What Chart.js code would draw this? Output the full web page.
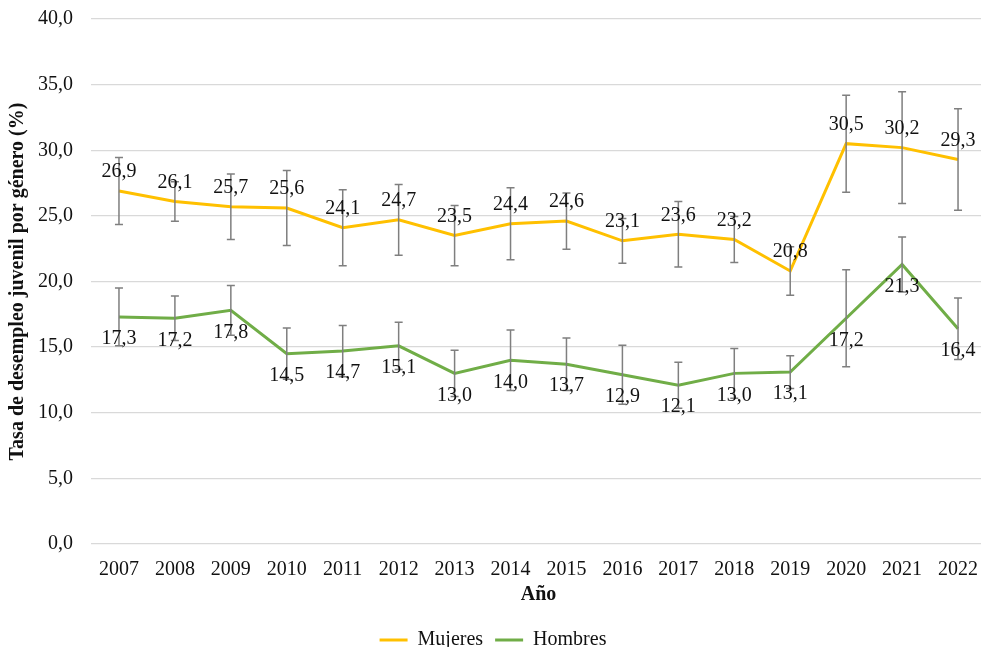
<!DOCTYPE html>
<html>
<head>
<meta charset="utf-8">
<script src="https://cdn.jsdelivr.net/npm/chart.js@4.4.1/dist/chart.umd.min.js"></script>
<style>
  html, body { margin: 0; padding: 0; background: #fff; overflow: hidden; }
</style>
</head>
<body>
<canvas id="chart" width="986" height="647"></canvas>
<script>
// Data
const years = ["2007", "2008", "2009", "2010", "2011", "2012", "2013", "2014",
    "2015", "2016", "2017", "2018", "2019", "2020", "2021", "2022"];
const mujeres = [26.9, 26.1, 25.7, 25.6, 24.1, 24.7, 23.5, 24.4, 24.6, 23.1, 23.6, 23.2, 20.8, 30.5, 30.2, 29.3];
const hombres = [17.3, 17.2, 17.8, 14.5, 14.7, 15.1, 13.0, 14.0, 13.7, 12.9, 12.1, 13.0, 13.1, 17.2, 21.3, 16.4];
// +/- error (percentage points)
const errMujeres = [2.55, 1.5, 2.5, 2.85, 2.9, 2.7, 2.3, 2.75, 2.15, 1.7, 2.5, 1.75, 1.85, 3.7, 4.25, 3.87];
const errHombres = [2.2, 1.7, 1.9, 1.95, 1.95, 1.8, 1.76, 2.3, 2.0, 2.25, 1.75, 1.9, 1.25, 3.7, 2.1, 2.35];

const FONT = "'Liberation Serif', 'Times New Roman', serif";
const fmt = (v) => v.toFixed(1).replace(".", ",");

// error bars + value labels drawn from the scales
const errorBarPlugin = {
    id: "errorBars",
    afterDatasetsDraw(chart) {
        const ctx = chart.ctx;
        const x = chart.scales.x;
        const y = chart.scales.y;
        ctx.save();
        ctx.strokeStyle = "#7f7f7f";
        ctx.lineWidth = 1.5;
        chart.data.datasets.forEach((ds) => {
            ds.data.forEach((v, i) => {
                const px = x.getPixelForValue(i);
                const top = y.getPixelForValue(v + ds.errors[i]);
                const bot = y.getPixelForValue(v - ds.errors[i]);
                ctx.beginPath();
                ctx.moveTo(px, top); ctx.lineTo(px, bot);
                ctx.moveTo(px - 4, top); ctx.lineTo(px + 4, top);
                ctx.moveTo(px - 4, bot); ctx.lineTo(px + 4, bot);
                ctx.stroke();
            });
        });
        ctx.fillStyle = "#111";
        ctx.font = "20px " + FONT;
        ctx.textAlign = "center";
        ctx.textBaseline = "middle";
        chart.data.datasets.forEach((ds) => {
            ds.data.forEach((v, i) => {
                const px = x.getPixelForValue(i);
                const py = y.getPixelForValue(v);
                ctx.fillText(fmt(v), px, py + ds.labelOffset);
            });
        });
        ctx.restore();
    }
};

new Chart(document.getElementById("chart"), {
    type: "line",
    data: {
        labels: years,
        datasets: [
            {
                label: "Mujeres",
                data: mujeres,
                errors: errMujeres,
                labelOffset: -19,
                borderColor: "#FFC000",
                backgroundColor: "#FFC000",
                borderWidth: 3,
                pointRadius: 0,
                tension: 0
            },
            {
                label: "Hombres",
                data: hombres,
                errors: errHombres,
                labelOffset: 22,
                borderColor: "#70AD47",
                backgroundColor: "#70AD47",
                borderWidth: 3,
                pointRadius: 0,
                tension: 0
            }
        ]
    },
    options: {
        responsive: false,
        animation: false,
        layout: { padding: { top: 19, right: 0, left: 0, bottom: -13 } },
        plugins: {
            legend: {
                position: "bottom",
                labels: {
                    usePointStyle: true,
                    pointStyle: "line",
                    pointStyleWidth: 28,
                    boxHeight: 3,
                    color: "#111",
                    font: { family: FONT, size: 20 },
                    padding: 12
                }
            },
            tooltip: { enabled: false }
        },
        scales: {
            x: {
                offset: true,
                grid: { display: false },
                border: { display: false },
                ticks: { color: "#111", font: { family: FONT, size: 20 }, padding: 6, maxRotation: 0 },
                title: {
                    display: true,
                    text: "Año",
                    color: "#111",
                    font: { family: FONT, size: 20, weight: "bold" },
                    padding: { top: 0, bottom: 11 }
                },
                afterFit: (scale) => { scale.height = 74; }
            },
            y: {
                min: 0,
                max: 40,
                ticks: {
                    stepSize: 5,
                    color: "#111",
                    font: { family: FONT, size: 20 },
                    padding: 18,
                    callback: (v) => fmt(v)
                },
                grid: { color: "#d9d9d9", lineWidth: 1.3, drawTicks: false },
                border: { display: false },
                title: {
                    display: true,
                    text: "Tasa de desempleo juvenil por género (%)",
                    color: "#111",
                    font: { family: FONT, size: 20, weight: "bold" },
                    padding: { top: 6, bottom: 0 }
                },
                afterFit: (scale) => {
                    scale.width = 91;
                    scale.paddingTop = 0;
                    scale.paddingBottom = 0;
                }
            }
        }
    },
    plugins: [errorBarPlugin]
});
</script>
</body>
</html>
